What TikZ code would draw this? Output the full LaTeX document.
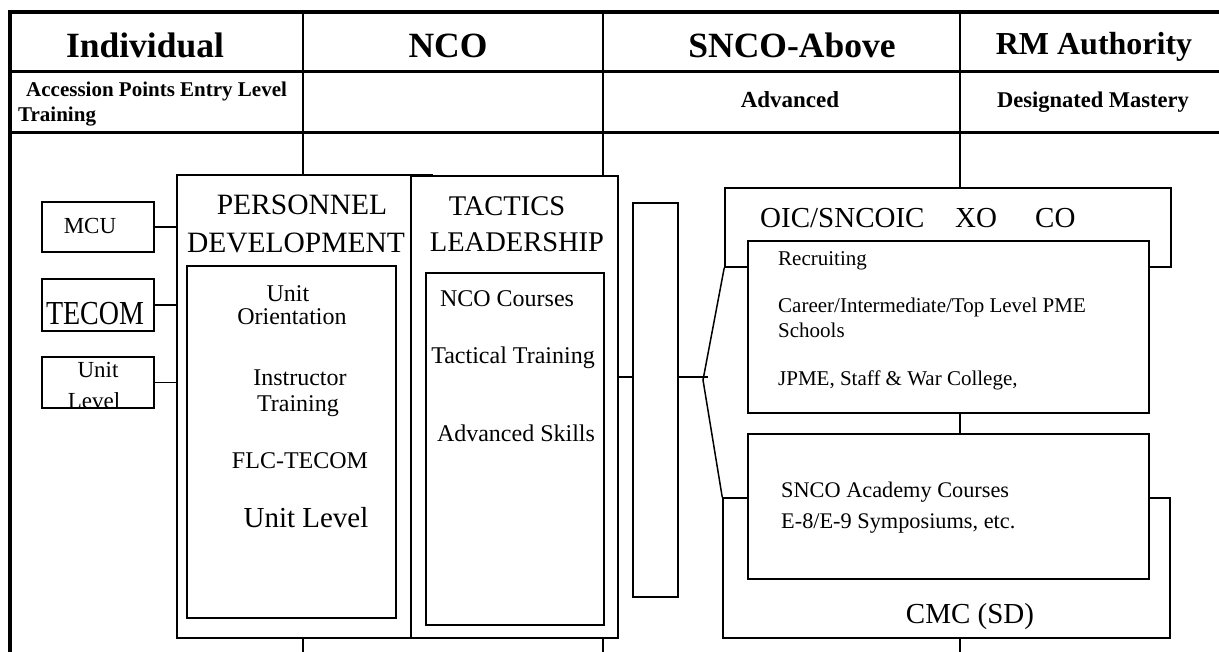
\documentclass[tikz,border=0pt]{standalone}
\usepackage{fontspec}
\setmainfont{Liberation Serif}
\usetikzlibrary{calc}
\newcommand{\fsz}[1]{\fontsize{#1}{#1}\selectfont}
\tikzset{
  box/.style={draw, line width=1.5pt, fill=white, inner sep=0pt},
  link/.style={line width=1.5pt},
  txt/.style={anchor=base, inner sep=0pt},
  txtl/.style={anchor=base west, inner sep=0pt},
  head/.style={txt, font=\bfseries\fsz{35.5}},
}

\begin{document}
\begin{tikzpicture}[x=1pt,y=-1pt]
  \useasboundingbox (0,0) rectangle (1219,652);

  % table frame
  \foreach \x in {303,603,960} \draw [line width=2pt] (\x,12) -- (\x,662);
  \draw [line width=3pt] (10,72) -- (1225,72);
  \draw [line width=3pt] (10,133) -- (1225,133);
  \draw [line width=4.5pt] (10,665) -- (10,12) -- (1225,12);

  \node [head] (hind) at (145,58) {Individual};
  \node [head] (hnco) at (448,58) {NCO};
  \node [head] (hsnco) at (792,58) {SNCO-Above};
  \node [head, font=\bfseries\fsz{32}] (hrm) at (1094,55) {RM Authority};

  \node [txtl, font=\bfseries\fsz{21}] (acc) at (26,97) {Accession Points Entry Level};
  \node [txtl, font=\bfseries\fsz{21}] (acctr) at (18,122) {Training};
  \node [txt, font=\bfseries\fsz{23}] (adv) at (790,108) {Advanced};
  \node [txt, font=\bfseries\fsz{22.5}] (dm) at (1093,108) {Designated Mastery};

  % left column
  \node [box, minimum width=112, minimum height=50] (mcu) at (98,227) {};
  \node [box, minimum width=112, minimum height=52] (tecom) at (98,305) {};
  \node [box, minimum width=112, minimum height=51] (unit) at (98,382.5) {};
  \node [txt, font=\fsz{23}] (mcut) at (90,234) {MCU};
  \node [txt, font=\fsz{28}] (tecomt) at (95,325) {\scalebox{1}[1.2]{TECOM}};
  \node [txt, font=\fsz{23}] (unitt) at (98,378) {Unit};
  \node [txt, font=\fsz{23}] (unitlv) at (94,409) {Level};

  % personnel development
  \node [box, minimum width=255, minimum height=463] (pd) at (304.5,406.5) {};
  \node [box, minimum width=209, minimum height=352] (pdin) at (291.5,442) {};
  \draw [link] (mcu) -- (mcu -| pd.west);
  \draw [link] (tecom) -- (tecom -| pd.west);
  \draw [link] (unit) -- (unit -| pd.west);
  \node [txt, font=\fsz{29.5}] (pd1) at (302,215) {PERSONNEL};
  \node [txt, font=\fsz{29.5}] (pd2) at (296,253) {DEVELOPMENT};
  \node [txt, font=\fsz{24}] (uo1) at (288,302) {Unit};
  \node [txt, font=\fsz{24}] (uo2) at (292,325) {Orientation};
  \node [txt, font=\fsz{24}] (it1) at (300,386) {Instructor};
  \node [txt, font=\fsz{24}] (it2) at (298,412) {Training};
  \node [txt, font=\fsz{24}] (flc) at (300,468) {FLC-TECOM};
  \node [txt, font=\fsz{29}] (ul) at (306,527) {Unit Level};

  % tactics leadership
  \node [box, minimum width=207, minimum height=462] (tac) at (514.5,407) {};
  \node [box, minimum width=178, minimum height=352] (tacin) at (515,449) {};
  \node [txt, font=\fsz{28.5}] (tl1) at (507,216) {TACTICS};
  \node [txt, font=\fsz{28.5}] (tl2) at (517,252) {LEADERSHIP};
  \node [txt, font=\fsz{24}] (ncoc) at (507,307) {NCO Courses};
  \node [txt, font=\fsz{24}] (tact) at (513,364) {Tactical Training};
  \node [txt, font=\fsz{24}] (advs) at (516,442) {Advanced Skills};

  \node [box, minimum width=45, minimum height=394] (bar) at (655.5,400) {};
  \coordinate (jy) at (0,377);
  \coordinate (fork) at (703,380);
  \draw [link] (tac.east |- jy) -- (bar.west |- jy);

  % snco and above
  \node [box, minimum width=446, minimum height=79] (oic) at (948,227.5) {};
  \node [box, minimum width=401, minimum height=172] (rec) at (948.5,327) {};
  \node [box, minimum width=447, minimum height=140] (cmc) at (946.5,568) {};
  \node [box, minimum width=401, minimum height=145] (snco) at (948.5,506.5) {};
  \draw [link] (bar.east |- jy) -- ([xshift=5pt]fork |- jy);
  \draw [link] (oic.south west) -- (fork) -- (cmc.north west);

  \node [txtl, font=\fsz{29}] (oict) at (760,228) {OIC/SNCOIC};
  \node [txtl, font=\fsz{29}] (xo) at (955,228) {XO};
  \node [txtl, font=\fsz{29}] (co) at (1035,228) {CO};
  \node [txtl, font=\fsz{21}] (r1) at (778,266) {Recruiting};
  \node [txtl, font=\fsz{21}] (r2) at (778,313) {Career/Intermediate/Top Level PME};
  \node [txtl, font=\fsz{21}] (r3) at (778,338) {Schools};
  \node [txtl, font=\fsz{21}] (r4) at (778,385) {JPME, Staff \& War College,};
  \node [txtl, font=\fsz{22.3}] (s1) at (781,497) {SNCO Academy Courses};
  \node [txtl, font=\fsz{22.3}] (s2) at (781,528) {E-8/E-9 Symposiums, etc.};
  \node [txt, font=\fsz{29}] (cmct) at (970,623) {CMC (SD)};
\end{tikzpicture}
\end{document}
